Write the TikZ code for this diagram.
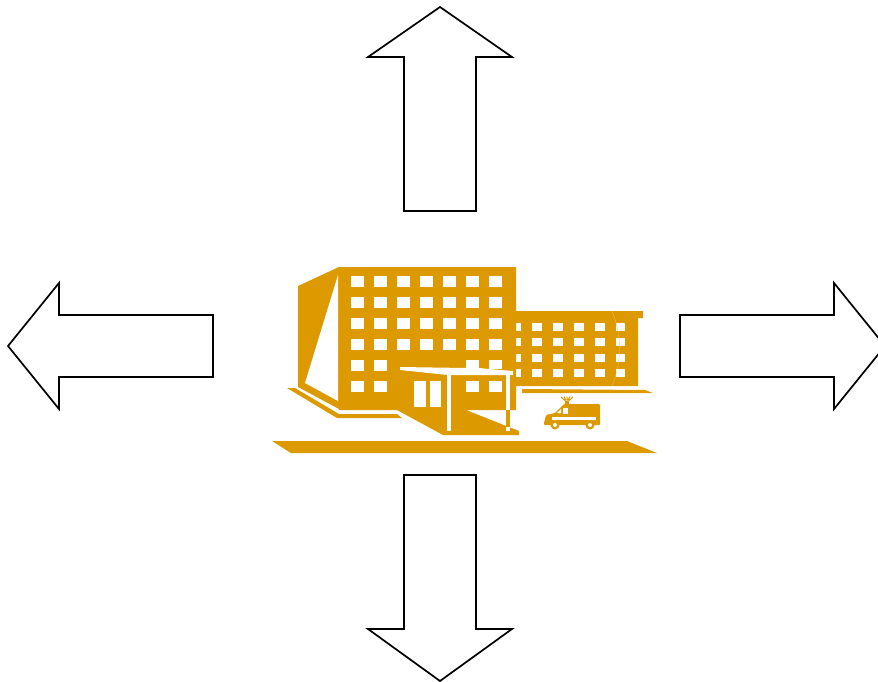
\documentclass[tikz,border=0pt]{standalone}
\definecolor{bld}{HTML}{DD9900}
\tikzset{
  arrowshape/.style={draw=black,fill=white,line width=1.7pt,line join=miter},
  dark/.style={fill=bld,draw=none},
  hole/.style={fill=white,draw=none}
}
\begin{document}
\begin{tikzpicture}[x=1pt,y=-1pt]
\useasboundingbox (0,0) rectangle (878,681);
\begin{scope}
\clip (0,0) rectangle (878,681);
% arrows
\draw[arrowshape] (440,7) -- (512,57) -- (476,57) -- (476,211) -- (404,211) -- (404,57) -- (368,57) -- cycle;
\draw[arrowshape] (404,475) -- (476,475) -- (476,629) -- (512,629) -- (440,681) -- (368,629) -- (404,629) -- cycle;
\draw[arrowshape] (8,346) -- (59,283) -- (59,315) -- (213,315) -- (213,377) -- (59,377) -- (59,409) -- cycle;
\draw[arrowshape] (680,315) -- (834,315) -- (834,283) -- (885,346) -- (834,409) -- (834,377) -- (680,377) -- cycle;
\end{scope}
% ground and strips
\fill[dark] (272,441) -- (627,441) -- (657,453) -- (291,453) -- cycle;
\fill[dark] (287,388) -- (295,388) -- (339,414) -- (397,414) -- (402,418) -- (337,418) -- cycle;
\fill[dark] (522,389) -- (645,390) -- (653,393) -- (522,393) -- cycle;
% side wall
\fill[dark] (298,286) -- (339,267) -- (339,409) -- (298,387) -- cycle;
\fill[hole] (338,275) -- (305,383) -- (338,401) -- cycle;
% right wing
\fill[dark] (516,311) -- (643,311) -- (643,318) -- (638,318) -- (638,386) -- (516,386) -- cycle;
\foreach \wy in {323,338,354,369}{
  \foreach \wx/\ww in {516/5,532/10,553/10,574/10,595/10,616/9}{
    \fill[hole] (\wx,\wy) rectangle ++(\ww,8);
  }
}
\draw[bld!55!white,line width=0.3pt] (612,311) .. controls (622,335) and (622,362) .. (612,386);
% main block
\fill[dark] (339,267) -- (516,267) -- (516,410) -- (466,410) -- (519,431) -- (519,435) -- (443,435) -- (397,410) -- (339,410) -- cycle;
\foreach \wy in {276,297,318,339}{
  \foreach \wx in {351,374,397,420,443,466,489}{
    \fill[hole] (\wx,\wy) rectangle ++(13,11);
  }
}
\foreach \wx in {351,374,466,489}{
  \fill[hole] (\wx,360) rectangle ++(13,11);
  \fill[hole] (\wx,381) rectangle ++(13,11);
}
% porch roof and posts
\fill[dark] (400,369) rectangle (513,376);
\fill[hole] (400,367) -- (466,368) -- (479,368) -- (489,369) -- (513,371) -- (513,375) -- (448,375) -- (400,370) -- cycle;
\fill[hole] (447,375) rectangle (451,431);
\fill[hole] (506,375) rectangle (510,410);
\fill[dark] (506,410) rectangle (510,426.5);
\fill[hole] (506,426.5) rectangle (510,431);
\fill[hole] (414,381) rectangle (426,407);
\fill[hole] (430,381) rectangle (441,407);
% ambulance
\fill[dark,rounded corners=1pt] (600,404) -- (600,425) -- (544,425) -- (544,423) -- (546,415) -- (555,413) -- (564,404) -- cycle;
\fill[hole] (557,413) -- (561,409) -- (561,413) -- cycle;
\fill[hole] (563,408) rectangle (568,414);
\fill[hole] (552,417) rectangle (596,420);
\fill[dark] (555,425) circle (4.5);
\fill[dark] (590,425) circle (4.5);
\fill[hole] (555,425) circle (2);
\fill[hole] (590,425) circle (2);
\fill[dark] (565,401) rectangle (569,404);
\draw[bld,line width=1pt] (561,397) -- (565,400.5) (567,396.5) -- (567,400.5) (573,397) -- (569,400.5) (564,396.5) -- (566,400.5) (570,396.5) -- (568,400.5);
\end{tikzpicture}
\end{document}
